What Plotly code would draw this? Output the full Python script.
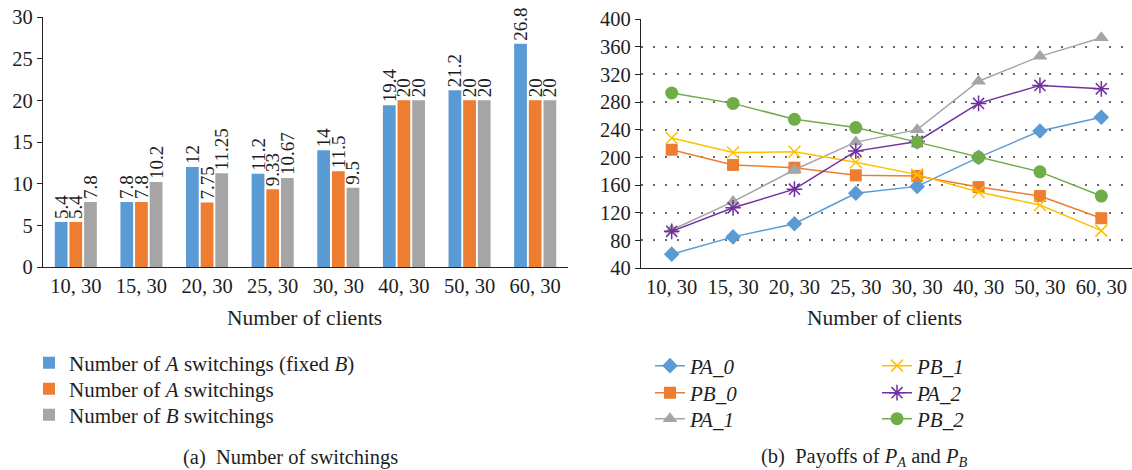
import plotly.graph_objects as go

W, H = 1132, 470

categories = ["10, 30", "15, 30", "20, 30", "25, 30", "30, 30", "40, 30", "50, 30", "60, 30"]

# (a) Number of switchings
a_switch_fixed_b = [5.4, 7.8, 12, 11.2, 14, 19.4, 21.2, 26.8]
a_switch = [5.4, 7.8, 7.75, 9.33, 11.5, 20, 20, 20]
b_switch = [7.8, 10.2, 11.25, 10.67, 9.5, 20, 20, 20]

# (b) Payoffs
PA_0 = [60, 85, 104, 148, 158, 200, 238, 258]
PB_0 = [211, 189, 185, 174, 173, 157, 144, 112]
PA_1 = [95, 136, 182, 222, 240, 310, 346, 373]
PB_1 = [228, 207, 208, 193, 175, 150, 131, 94]
PA_2 = [93, 127, 154, 209, 223, 278, 304, 299]
PB_2 = [293, 278, 255, 243, 222, 200, 179, 144]

FONT = "Liberation Serif, Times New Roman, DejaVu Serif, serif"
TXT = "#1e1e1e"


def px_x(p):
    return p / W


def px_y(p):
    return 1 - p / H


fig = go.Figure()

# legend slots: (legend id, text-left px, row-centre px)
left_rows = [363, 389, 415]
right_rows = [366, 393, 419]
legend_slots = {}

bar_specs = [
    ("Number of <i>A</i> switchings (fixed <i>B</i>)", a_switch_fixed_b, "#5B9BD5"),
    ("Number of <i>A</i> switchings", a_switch, "#ED7D31"),
    ("Number of <i>B</i> switchings", b_switch, "#A5A5A5"),
]
for i, (name, vals, col) in enumerate(bar_specs):
    lid = "legend" if i == 0 else "legend%d" % (i + 1)
    legend_slots[lid] = (69, left_rows[i])
    fig.add_trace(go.Bar(
        x=categories, y=vals, name=name, marker=dict(color=col, line=dict(width=0)),
        texttemplate="%{y}", textposition="outside", textangle=-90,
        textfont=dict(family=FONT, size=19, color=TXT), constraintext="none",
        cliponaxis=False, xaxis="x", yaxis="y", legend=lid,
    ))

line_specs = [
    ("PA_0", PA_0, "#5B9BD5", dict(symbol="diamond", size=12)),
    ("PB_0", PB_0, "#ED7D31", dict(symbol="square", size=12)),
    ("PA_1", PA_1, "#A5A5A5", dict(symbol="triangle-up", size=13)),
    ("PB_1", PB_1, "#FFC000", dict(symbol="x-thin-open", size=12)),
    ("PA_2", PA_2, "#7030A0", dict(symbol="asterisk-open", size=13)),
    ("PB_2", PB_2, "#70AD47", dict(symbol="circle", size=13)),
]
for j, (name, vals, col, mk) in enumerate(line_specs):
    lid = "legend%d" % (j + 4)
    legend_slots[lid] = (690 if j < 3 else 917, right_rows[j % 3])
    m = dict(mk)
    m["color"] = col
    m["line"] = dict(width=1.5 if "open" in mk["symbol"] else 0, color=col)
    fig.add_trace(go.Scatter(
        x=categories, y=vals, name="<i>" + name + "</i>", mode="lines+markers",
        line=dict(color=col, width=1.5), marker=m, cliponaxis=False,
        xaxis="x2", yaxis="y2", legend=lid,
    ))

axis_common = dict(showline=True, linecolor="#222", linewidth=1.2, automargin=False,
                   tickfont=dict(family=FONT, size=20.5, color=TXT))

layout = dict(
    template="none",
    width=W, height=H,
    margin=dict(l=0, r=0, t=0, b=0, pad=0, autoexpand=False),
    paper_bgcolor="white", plot_bgcolor="white",
    font=dict(family=FONT, color=TXT),
    barmode="group", bargap=0.33, bargroupgap=0.13,
    showlegend=True,
    xaxis=dict(domain=[px_x(43), px_x(568)], type="category", range=[-0.5, 7.5],
               ticks="", showgrid=False, zeroline=False, anchor="y", **axis_common),
    yaxis=dict(domain=[px_y(267), px_y(17)], range=[0, 30], dtick=5,
               ticks="outside", ticklen=5, tickcolor="#222", showgrid=False,
               zeroline=False, anchor="x", **axis_common),
    xaxis2=dict(domain=[px_x(641), 1.0], type="category", range=[-0.5, 7.5],
                ticks="", showgrid=False, zeroline=False, anchor="y2", **axis_common),
    yaxis2=dict(domain=[px_y(268), px_y(19)], range=[40, 400], dtick=40,
                ticks="outside", ticklen=5, tickcolor="#222",
                showgrid=True, gridcolor="#6a6a6a", gridwidth=1.5, griddash="2px,10px",
                zeroline=False, anchor="x2", **axis_common),
)
for lid, (tx, ty) in legend_slots.items():
    layout[lid] = dict(x=px_x(tx - 40), y=px_y(ty), xanchor="left", yanchor="middle",
                       font=dict(family=FONT, size=21, color=TXT),
                       bgcolor="rgba(0,0,0,0)", borderwidth=0)
fig.update_layout(**layout)

for xc in (304, 884):
    fig.add_annotation(text="Number of clients", x=px_x(xc), y=px_y(318),
                       xref="paper", yref="paper", xanchor="center", yanchor="middle",
                       showarrow=False, font=dict(family=FONT, size=21.5, color=TXT))

fig.add_annotation(text="(a)  Number of switchings", x=px_x(181), y=px_y(457),
                   xref="paper", yref="paper", xanchor="left", yanchor="middle",
                   showarrow=False, font=dict(family=FONT, size=20.5, color=TXT))
fig.add_annotation(text="(b)  Payoffs of <i>P</i><sub><i>A</i></sub> and <i>P</i><sub><i>B</i></sub>",
                   x=px_x(759), y=px_y(457),
                   xref="paper", yref="paper", xanchor="left", yanchor="middle",
                   showarrow=False, font=dict(family=FONT, size=20.5, color=TXT))

fig.write_html(
    "out.html",
    config={"displayModeBar": False},
    post_script="document.body.style.margin='0';document.body.style.padding='0';"
                "document.body.style.overflow='hidden';",
)
